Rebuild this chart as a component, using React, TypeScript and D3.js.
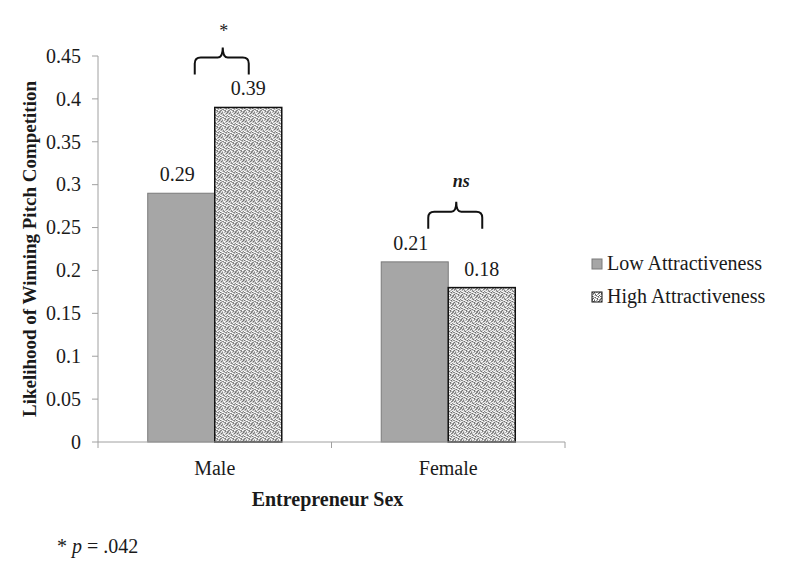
import * as d3 from 'd3';

const categories = ['Male', 'Female'];
const seriesNames = ['Low Attractiveness', 'High Attractiveness'];
const lowValues = [0.29, 0.21];
const highValues = [0.39, 0.18];
const yTicks = [0, 0.05, 0.1, 0.15, 0.2, 0.25, 0.3, 0.35, 0.4, 0.45];
const braceLabels = ['*', 'ns'];

const TEXT = '#1a1a1a';
const AXIS = '#a0a0a0';
const regular = { fontFamily: 'Liberation Serif, serif', fontWeight: 400 };
const bold = { fontFamily: 'Liberation Serif, serif', fontWeight: 700 };

// confetti-like stipple for the high attractiveness bars
const STIPPLE = [
  '10201302',
  '02130021',
  '31020130',
  '00312002',
  '21003120',
  '03120013',
  '12031200',
  '20100231',
];
const STIPPLE_SHADES = ['#ffffff', '#a0a0a0', '#606060', '#d0d0d0'];

// one path per shade so the pattern stays light
const stipplePaths = [1, 2, 3].map((shade) => {
  const p = d3.path();
  STIPPLE.forEach((row, r) =>
    row.split('').forEach((c, col) => {
      if (+c === shade) p.rect(col, r, 1, 1);
    })
  );
  return { d: p.toString(), fill: STIPPLE_SHADES[shade] };
});

const margin = { top: 56, left: 98, right: 565, bottom: 442 };

const y = d3.scaleLinear().domain([0, 0.45]).range([margin.bottom, margin.top]);
const x0 = d3.scaleBand().domain(categories).range([margin.left, margin.right]).padding(0);
const groupWidth = x0.bandwidth() * 0.574;
const x1 = d3.scaleBand().domain(seriesNames).range([0, groupWidth]).padding(0);
const groupX = (c: string) => x0(c)! + (x0.bandwidth() - groupWidth) / 2;

const bracePath = (i: number) => {
  const top = y(Math.max(lowValues[i], highValues[i]));
  const mid = groupX(categories[i]) + groupWidth / 2;
  const xa = mid - 20;
  const xb = mid + 34;
  const xt = mid + 8;
  const yH = top - 50;
  const yEnd = top - 33;
  const yTip = top - 60;
  const p = d3.path();
  p.moveTo(xa, yEnd);
  p.lineTo(xa, yH + 6);
  p.quadraticCurveTo(xa, yH, xa + 6, yH);
  p.lineTo(xt - 5, yH);
  p.quadraticCurveTo(xt, yH, xt, yTip);
  p.quadraticCurveTo(xt, yH, xt + 5, yH);
  p.lineTo(xb - 6, yH);
  p.quadraticCurveTo(xb, yH, xb, yH + 6);
  p.lineTo(xb, yEnd);
  return { d: p.toString(), xt, top };
};

export default function App() {
  const xTicks = [margin.left, ...categories.map((c) => x0(c)! + x0.bandwidth())];

  return (
    <svg width={786} height={563} style={{ position: 'absolute', top: 0, left: 0 }}>
      <defs>
        <pattern id="stipple" patternUnits="userSpaceOnUse" width={8} height={8}>
          <rect width={8} height={8} fill="#ffffff" />
          {stipplePaths.map((s) => (
            <path key={s.fill} d={s.d} fill={s.fill} />
          ))}
        </pattern>
      </defs>

      {/* y axis */}
      <line x1={margin.left} x2={margin.left} y1={y(0)} y2={y(0.45)} stroke={AXIS} />
      {yTicks.map((t) => (
        <g key={t} transform={`translate(0,${y(t)})`}>
          <line x1={margin.left - 6} x2={margin.left} stroke={AXIS} />
          <text x={margin.left - 17} dy="0.34em" textAnchor="end" style={regular} fontSize={20} fill={TEXT}>
            {String(+t.toFixed(2))}
          </text>
        </g>
      ))}

      {/* bars */}
      {categories.map((c, i) => (
        <g key={c} transform={`translate(${groupX(c)},0)`}>
          <rect
            x={x1(seriesNames[0])}
            y={y(lowValues[i])}
            width={x1.bandwidth()}
            height={y(0) - y(lowValues[i])}
            fill="#a6a6a6"
            stroke="#7a7a7a"
          />
          <rect
            x={x1(seriesNames[1])}
            y={y(highValues[i])}
            width={x1.bandwidth()}
            height={y(0) - y(highValues[i])}
            fill="url(#stipple)"
            stroke="#111"
            strokeWidth={1.5}
          />
          <text
            x={x1(seriesNames[0])! + x1.bandwidth() / 2 - 4}
            y={y(lowValues[i]) - 12}
            textAnchor="middle"
            style={regular}
            fontSize={20}
            fill={TEXT}
          >
            {String(lowValues[i])}
          </text>
          <text
            x={x1(seriesNames[1])! + x1.bandwidth() / 2}
            y={y(highValues[i]) - 12}
            textAnchor="middle"
            style={regular}
            fontSize={20}
            fill={TEXT}
          >
            {String(highValues[i])}
          </text>
        </g>
      ))}

      {/* significance braces */}
      {categories.map((c, i) => {
        const b = bracePath(i);
        return (
          <g key={`brace-${c}`}>
            <path d={b.d} fill="none" stroke="#111" strokeWidth={2} />
            <text
              x={b.xt + (i === 0 ? 1 : 5)}
              y={b.top - (i === 0 ? 70 : 75)}
              textAnchor="middle"
              style={i === 0 ? regular : { ...bold, fontStyle: 'italic' }}
              fontSize={18}
              fill={TEXT}
            >
              {braceLabels[i]}
            </text>
          </g>
        );
      })}

      {/* x axis */}
      <line x1={margin.left} x2={margin.right} y1={y(0)} y2={y(0)} stroke={AXIS} />
      {xTicks.map((t) => (
        <line key={t} x1={t} x2={t} y1={y(0)} y2={y(0) + 6} stroke={AXIS} />
      ))}
      {categories.map((c) => (
        <text
          key={`lbl-${c}`}
          x={x0(c)! + x0.bandwidth() / 2}
          y={y(0) + 33}
          textAnchor="middle"
          style={regular}
          fontSize={20}
          fill={TEXT}
        >
          {c}
        </text>
      ))}

      {/* axis titles */}
      <text x={(margin.left + margin.right) / 2 - 4} y={506} textAnchor="middle" style={bold} fontSize={20} fill={TEXT}>
        Entrepreneur Sex
      </text>
      <text
        transform={`translate(36,${(margin.top + margin.bottom) / 2}) rotate(-90)`}
        textAnchor="middle"
        style={bold}
        fontSize={19}
        fill={TEXT}
      >
        Likelihood of Winning Pitch Competition
      </text>

      {/* legend */}
      {seriesNames.map((s, i) => (
        <g key={s} transform={`translate(592,${259 + i * 33})`}>
          <rect
            width={10}
            height={10}
            fill={i === 0 ? '#a6a6a6' : 'url(#stipple)'}
            stroke={i === 0 ? '#7a7a7a' : '#111'}
          />
          <text x={15} y={11} style={regular} fontSize={20} fill={TEXT}>
            {s}
          </text>
        </g>
      ))}

      {/* footnote */}
      <text x={57} y={553} style={regular} fontSize={20} fill={TEXT}>
        <tspan>* </tspan>
        <tspan fontStyle="italic">p</tspan>
        <tspan> = .042</tspan>
      </text>
    </svg>
  );
}
